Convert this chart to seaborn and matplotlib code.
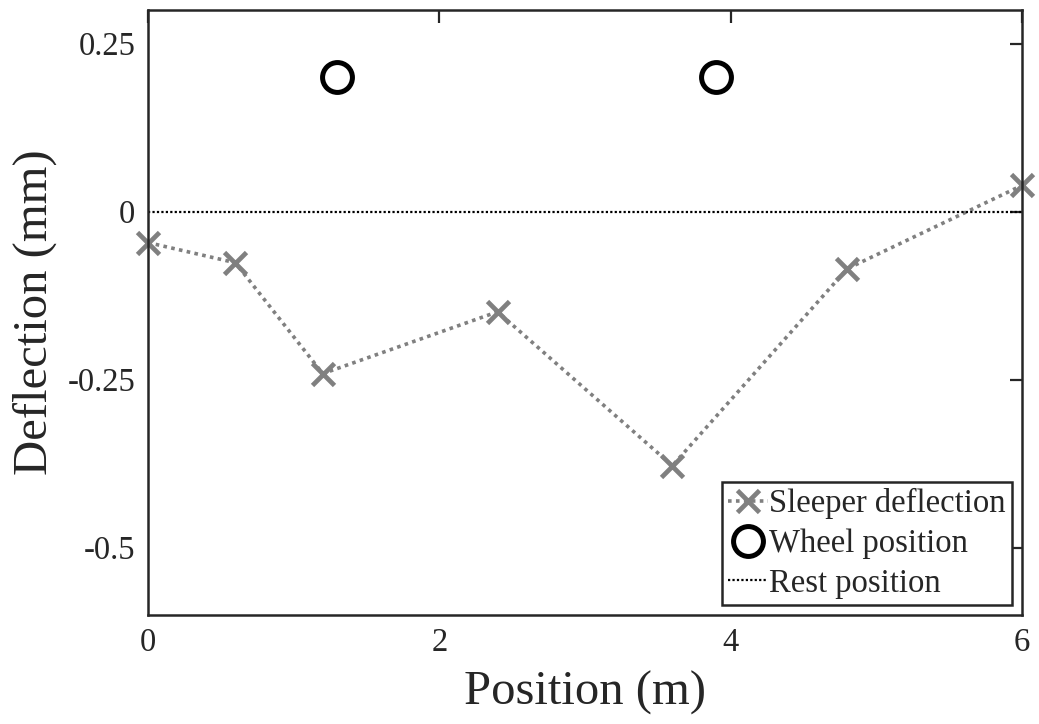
import matplotlib
matplotlib.use("Agg")
import matplotlib.pyplot as plt
import seaborn as sns
import pandas as pd

# Sleeper positions along the track and their measured deflections
sleeper_pos = [0.0, 0.6, 1.2, 2.4, 3.6, 4.8, 6.0]
sleeper_defl = [-0.046, -0.076, -0.241, -0.149, -0.378, -0.085, 0.039]

# Wheel locations (drawn above the rail for reference)
wheel_pos = [1.3, 3.9]
wheel_y = [0.2, 0.2]

# Rest (undeflected) line
rest_x = [0.0, 6.0]
rest_y = [0.0, 0.0]

x_ticks = [0, 2, 4, 6]
y_ticks = [-0.5, -0.25, 0, 0.25]
y_tick_labels = ["-0.5", "-0.25", "0", "0.25"]

sns.set_theme(style="white")
plt.rcParams["font.family"] = ["Liberation Serif", "DejaVu Serif"]

ink = "#262626"
fig = plt.figure(figsize=(10.39, 7.24), dpi=100)
ax = fig.add_axes([0.1424, 0.1506, 0.8412, 0.8356])

df_s = pd.DataFrame({"x": sleeper_pos, "y": sleeper_defl})
sns.lineplot(data=df_s, x="x", y="y", ax=ax, color="#808080", linestyle=(0, (1, 1.2)),
             linewidth=2.6, marker="x", markersize=16, markeredgewidth=3.4,
             markeredgecolor="#808080", label="Sleeper deflection", sort=False,
             clip_on=False)

df_w = pd.DataFrame({"x": wheel_pos, "y": wheel_y})
ax.plot(df_w["x"], df_w["y"], linestyle="none", marker="o", markersize=21.5,
        markerfacecolor="none", markeredgecolor="black", markeredgewidth=3.6,
        label="Wheel position")

df_r = pd.DataFrame({"x": rest_x, "y": rest_y})
sns.lineplot(data=df_r, x="x", y="y", ax=ax, color="black", linestyle=(0, (1, 1)),
             linewidth=1.6, label="Rest position")

ax.set_xlim(0, 6)
ax.set_ylim(-0.6, 0.3)
ax.set_xticks(x_ticks)
ax.set_yticks(y_ticks)
ax.set_yticklabels(y_tick_labels)
ax.tick_params(direction="in", length=9, width=1.6, top=True, right=True,
               labelsize=23.5, colors=ink, pad=9)
for lbl in ax.get_xticklabels() + ax.get_yticklabels():
    lbl.set_color(ink)
for sp in ax.spines.values():
    sp.set_linewidth(1.8)
    sp.set_color(ink)

ax.set_xlabel("Position (m)", fontsize=35, color=ink, labelpad=9)
ax.set_ylabel("Deflection (mm)", fontsize=35, color=ink, labelpad=8)

leg = ax.legend(loc="lower right", fontsize=23.5, frameon=True, fancybox=False,
                edgecolor=ink, handlelength=1.2, handletextpad=0.05,
                borderpad=0.2, labelspacing=0.28, borderaxespad=0.3,
                framealpha=1)
leg.get_frame().set_linewidth(1.8)

fig.savefig("out.png", dpi=100)
